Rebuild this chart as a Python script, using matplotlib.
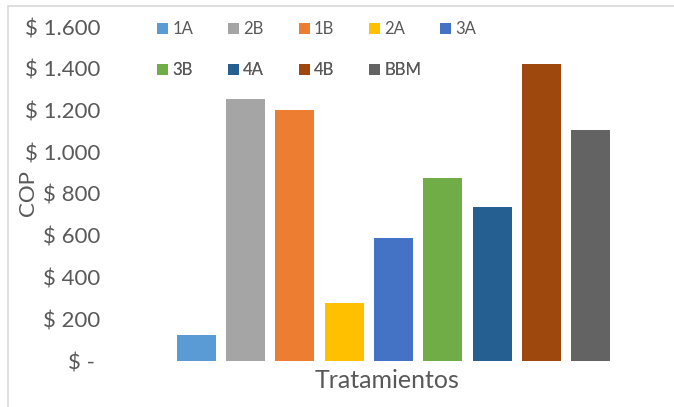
import matplotlib.pyplot as plt
from matplotlib.patches import Rectangle
from matplotlib.ticker import FuncFormatter

# costos por tratamiento (COP)
tratamientos = ['1A', '2B', '1B', '2A', '3A', '3B', '4A', '4B', 'BBM']
costos = [125, 1255, 1202, 279, 587, 875, 740, 1423, 1106]
colores = ['#5B9BD5', '#A5A5A5', '#ED7D31', '#FFC000', '#4472C4',
           '#70AD47', '#255E91', '#9E480E', '#636363']
y_ticks = [0, 200, 400, 600, 800, 1000, 1200, 1400, 1600]

gris = '#595959'
plt.rcParams['font.family'] = ['Lato', 'DejaVu Sans']

fig = plt.figure(figsize=(6.74, 4.07), dpi=100)
ax = fig.add_axes([120 / 674, 46 / 407, 547 / 674, 334 / 407])

# una serie por tratamiento, todas en la misma categoria
barras = []
for i, (t, c, col) in enumerate(zip(tratamientos, costos, colores)):
    barras.append(ax.bar(i, c, width=0.79, color=col, label=t))

ax.set_xlim(-1.55, 9.55)
ax.set_ylim(0, 1600)
ax.set_yticks(y_ticks)


def pesos(v, pos):
    if v == 0:
        return '$ - '
    return '$ ' + f'{int(v):,}'.replace(',', '.')


ax.yaxis.set_major_formatter(FuncFormatter(pesos))
ax.tick_params(axis='y', length=0, pad=14, labelsize=16, labelcolor=gris)
ax.set_xticks([])
for s in ax.spines.values():
    s.set_visible(False)

ax.set_ylabel('COP', fontsize=16, color=gris, va='center')
ax.yaxis.set_label_coords(-0.168, 0.503)
ax.set_xlabel('Tratamientos', fontsize=18, color=gris, va='center')
ax.xaxis.set_label_coords(0.489, -0.058)

# leyenda en dos filas de 5 y 4 entradas
ncol = 5
filas = [(0, ncol, 0.994), (ncol, len(tratamientos), 0.870)]
for ini, fin, y in filas:
    leg = ax.legend(barras[ini:fin], tratamientos[ini:fin], ncol=ncol,
                    loc='center left', bbox_to_anchor=(0.0676, y),
                    frameon=False, fontsize=12, handlelength=0.66,
                    handleheight=0.66, handletextpad=0.25, columnspacing=2.1,
                    borderaxespad=0, borderpad=0)
    for txt in leg.get_texts():
        txt.set_color(gris)
    ax.add_artist(leg)

# borde del area del grafico
fig.patches.append(Rectangle((8 / 674, -0.1), 1.2, 1.1 - 6 / 407,
                             transform=fig.transFigure, fill=False,
                             edgecolor='#d9d9d9', linewidth=1.2))

fig.savefig('out.png', dpi=100)
